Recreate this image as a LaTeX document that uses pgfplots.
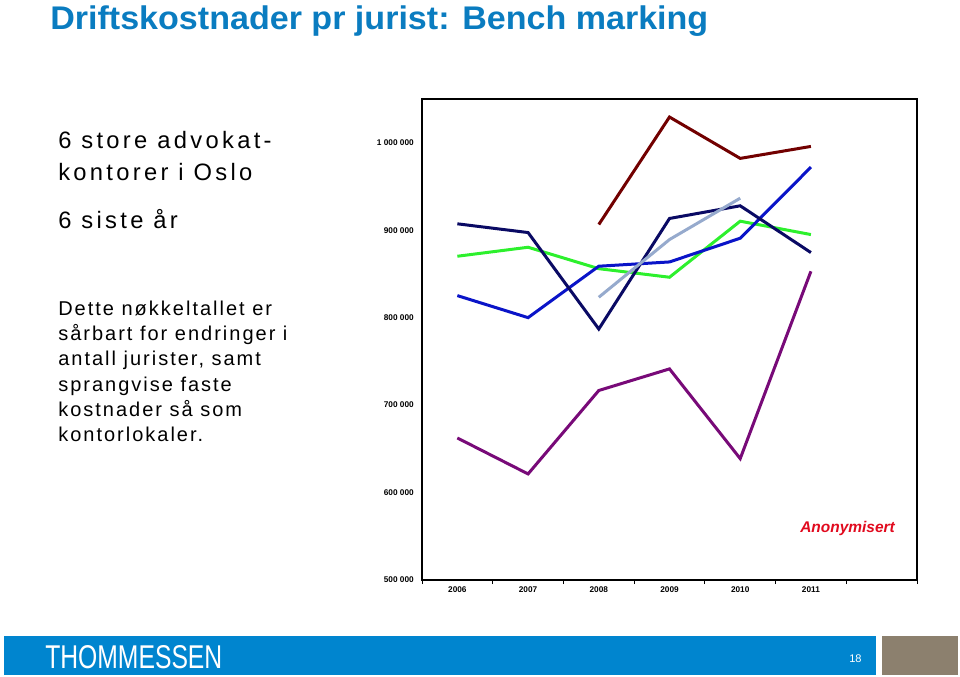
\documentclass[border=0pt]{standalone}
\usepackage{pgfplots}
\pgfplotsset{compat=1.18}
\usepackage{fontspec}
\setmainfont{Liberation Sans}
\newfontfamily\spaced[LetterSpace=10]{Liberation Sans}
\newfontfamily\spacedbig[LetterSpace=14]{Liberation Sans}
\definecolor{titleblue}{RGB}{10,124,192}
\definecolor{barblue}{RGB}{0,133,207}
\definecolor{bargray}{RGB}{140,128,110}
\definecolor{cMaroon}{RGB}{114,0,0}
\definecolor{cNavy}{RGB}{10,10,100}
\definecolor{cGreen}{RGB}{45,240,45}
\definecolor{cBlue}{RGB}{10,20,200}
\definecolor{cSteel}{RGB}{150,170,205}
\definecolor{cPurple}{RGB}{120,10,120}
\definecolor{anonred}{RGB}{225,10,30}
\begin{document}
\begin{tikzpicture}
\begin{scope}[x=0.75pt,y=-0.75pt]
\path[use as bounding box] (0,0) rectangle (960,676);
% title
\node[anchor=base west,inner sep=0pt,text=titleblue] at (50,29.5)
  {\resizebox{493.5pt}{17.8pt}{\bfseries Driftskostnader pr jurist: Bench marking}};
% left text
\begin{scope}[every node/.style={anchor=base west,inner sep=0pt,text=black}]
\node at (58,148) {\fontsize{17.8}{20}\spacedbig 6 store advokat-};
\node at (58,180) {\fontsize{17.8}{20}\spacedbig kontorer i Oslo};
\node at (58,228) {\fontsize{17.8}{20}\spacedbig 6 siste år};
\node at (58,315) {\fontsize{15}{18}\spaced Dette nøkkeltallet er};
\node at (58,340) {\fontsize{15}{18}\spaced sårbart for endringer i};
\node at (58,365.5) {\fontsize{15}{18}\spaced antall jurister, samt};
\node at (58,391) {\fontsize{15}{18}\spaced sprangvise faste};
\node at (58,416) {\fontsize{15}{18}\spaced kostnader så som};
\node at (58,441) {\fontsize{15}{18}\spaced kontorlokaler.};
\end{scope}
% footer
\fill[barblue] (4,636) rectangle (876,675);
\fill[bargray] (882,636) rectangle (958,675);
\node[anchor=base west,inner sep=0pt,text=white] at (45,668)
  {\resizebox{132.75pt}{17.25pt}{THOMMESSEN}};
\node[anchor=base west,inner sep=0pt,text=white] at (849,662)
  {\fontsize{8.3}{9}\selectfont 18};
\node[anchor=base west,inner sep=0pt,text=anonred] at (800,532)
  {\fontsize{11.6}{13}\selectfont\bfseries\itshape Anonymisert};
\end{scope}
\begin{axis}[
  at={(316.5pt,-435pt)}, anchor=south west,
  scale only axis, width=371.25pt, height=360.75pt,
  xmin=2005.5, xmax=2012.5, ymin=500000, ymax=1050000,
  scaled y ticks=false, scaled x ticks=false,
  xtick={2006,2007,2008,2009,2010,2011},
  xticklabels={2006,2007,2008,2009,2010,2011},
  minor xtick={2005.5,2006.5,2007.5,2008.5,2009.5,2010.5,2011.5,2012.5},
  ytick={500000,600000,700000,800000,900000,1000000},
  yticklabels={500 000,600 000,700 000,800 000,900 000,1 000 000},
  major tick length=0pt,
  minor tick length=3pt,
  tick align=outside,
  xtick pos=bottom, ytick pos=left,
  minor x tick style={black, line width=0.6pt},
  axis line style={black, line width=1.5pt},
  ticklabel style={font=\fontsize{6.2}{7}\selectfont\bfseries, inner sep=0pt},
  yticklabel style={xshift=-6pt},
  xticklabel style={yshift=-5pt},
  every axis plot/.append style={line width=2.25pt, mark=none},
]
\addplot[cPurple] coordinates {(2006,662400) (2007,621300) (2008,716700) (2009,741400) (2010,638800) (2011,853000)};
\addplot[cMaroon] coordinates {(2008,906500) (2009,1029400) (2010,982100) (2011,995800)};
\addplot[cGreen] coordinates {(2006,870200) (2007,880500) (2008,856000) (2009,846200) (2010,910300) (2011,895000)};
\addplot[cBlue] coordinates {(2006,825200) (2007,800000) (2008,858800) (2009,863700) (2010,890800) (2011,972100)};
\addplot[cNavy] coordinates {(2006,907300) (2007,897300) (2008,787000) (2009,913400) (2010,927900) (2011,874400)};
\addplot[cSteel] coordinates {(2008,823300) (2009,889300) (2010,936600)};
\end{axis}
\end{tikzpicture}
\end{document}
